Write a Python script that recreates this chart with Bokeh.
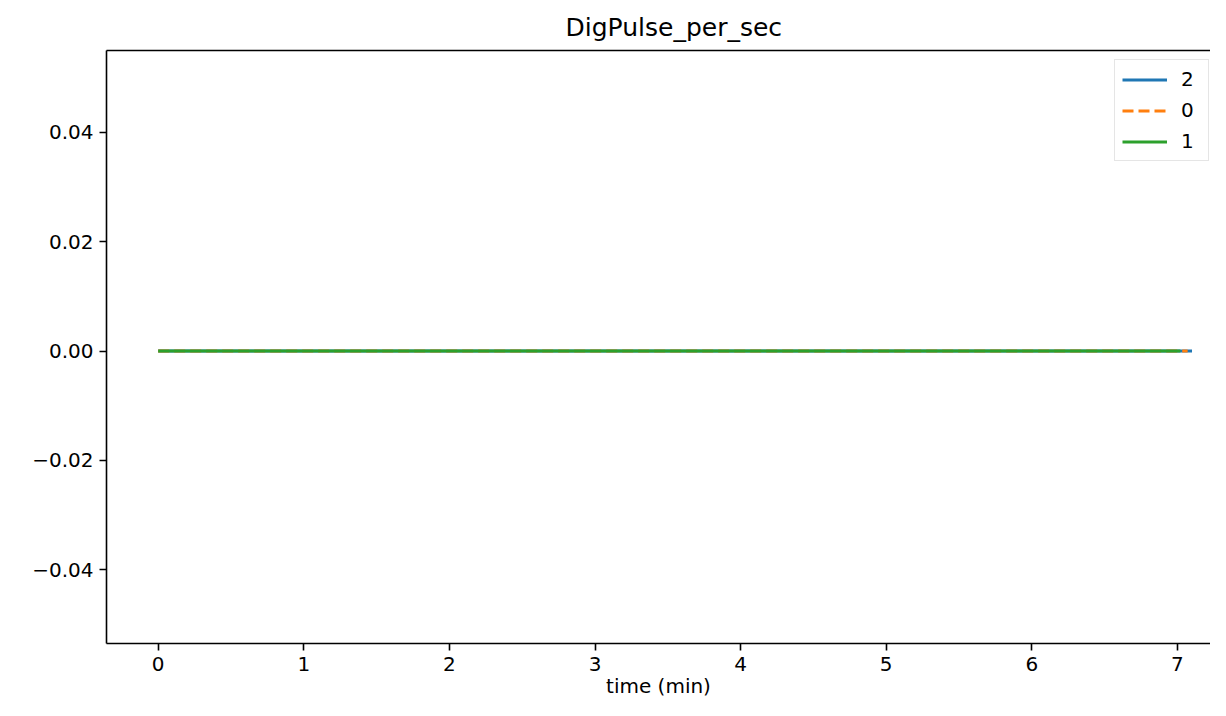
from bokeh.plotting import figure
from bokeh.models import (Range1d, FixedTicker, CustomJSTickFormatter, LinearAxis,
                          Legend, LegendItem)
from bokeh.embed import file_html
from bokeh.resources import INLINE

# ---- data ----
series_names = ["2", "0", "1"]
time_2 = [0.0, 1.0, 2.0, 3.0, 4.0, 5.0, 6.0, 7.0, 7.10]
vals_2 = [0, 0, 0, 0, 0, 0, 0, 0, 0]
time_0 = [0.0, 1.0, 2.0, 3.0, 4.0, 5.0, 6.0, 7.0, 7.07]
vals_0 = [0, 0, 0, 0, 0, 0, 0, 0, 0]
time_1 = [0.0, 1.0, 2.0, 3.0, 4.0, 5.0, 6.0, 7.0, 7.02]
vals_1 = [0, 0, 0, 0, 0, 0, 0, 0, 0]
x_ticks = [0, 1, 2, 3, 4, 5, 6, 7]
y_ticks = [-0.04, -0.02, 0.0, 0.02, 0.04]
title_text = "DigPulse_per_sec"
x_label = "time (min)"

FONT = "DejaVu Sans"
colors = ["#1f77b4", "#ff7f0e", "#2ca02c"]
dashes = ["solid", "11 5", "solid"]

p = figure(width=1210, height=700, output_backend="svg", toolbar_location=None,
           x_range=Range1d(-0.355, 7.227), y_range=Range1d(-0.05353, 0.055),
           min_border_left=106, min_border_right=0, min_border_top=50,
           min_border_bottom=50, x_axis_location=None, y_axis_location=None)

p.background_fill_color = "white"
p.border_fill_color = "white"
p.outline_line_color = None
p.xgrid.visible = False
p.ygrid.visible = False

p.title.text = title_text
p.title.text_font = FONT
p.title.text_font_size = "25px"
p.title.text_font_style = "normal"
p.title.text_color = "black"
p.title.align = "left"
p.title.offset = 459
p.title.standoff = 18

def style_axis(ax):
    ax.axis_line_color = "black"
    ax.axis_line_width = 1.6
    ax.major_tick_line_color = "black"
    ax.major_tick_line_width = 1.6
    ax.major_tick_out = 7
    ax.major_tick_in = 0
    ax.minor_tick_line_color = None
    ax.major_label_text_font = FONT
    ax.major_label_text_font_size = "20px"
    ax.major_label_text_color = "black"
    ax.axis_label_text_font = FONT
    ax.axis_label_text_font_size = "20px"
    ax.axis_label_text_font_style = "normal"
    ax.axis_label_text_color = "black"

xaxis = LinearAxis(ticker=FixedTicker(ticks=x_ticks), axis_label=x_label)
style_axis(xaxis)
xaxis.major_label_standoff = 6
xaxis.axis_label_standoff = 0
p.add_layout(xaxis, "below")

yaxis = LinearAxis(ticker=FixedTicker(ticks=y_ticks),
                   formatter=CustomJSTickFormatter(
                       code="return tick.toFixed(2).replace('-', '\\u2212');"))
style_axis(yaxis)
yaxis.major_label_standoff = 6
p.add_layout(yaxis, "left")

top_axis = LinearAxis(ticker=FixedTicker(ticks=[]))
style_axis(top_axis)
top_axis.major_label_text_font_size = "0px"
top_axis.major_tick_out = 0
top_axis.major_label_standoff = 0
p.add_layout(top_axis, "above")

items = []
for name, xs, ys, c, d in zip(series_names, [time_2, time_0, time_1],
                              [vals_2, vals_0, vals_1], colors, dashes):
    r = p.line(xs, ys, line_color=c, line_width=3, line_dash=d)
    items.append(LegendItem(label=name, renderers=[r]))

legend = Legend(items=items, location=(1008, 482))
legend.label_text_font = FONT
legend.label_text_font_size = "20px"
legend.label_text_color = "black"
legend.glyph_width = 45
legend.glyph_height = 21
legend.label_height = 21
legend.spacing = 7
legend.label_standoff = 14
legend.padding = 7
legend.margin = 0
legend.border_line_color = "#cccccc"
legend.border_line_width = 1.5
legend.background_fill_color = "white"
legend.background_fill_alpha = 0.8
p.add_layout(legend)

open("out.html", "w").write(file_html(p, INLINE))
